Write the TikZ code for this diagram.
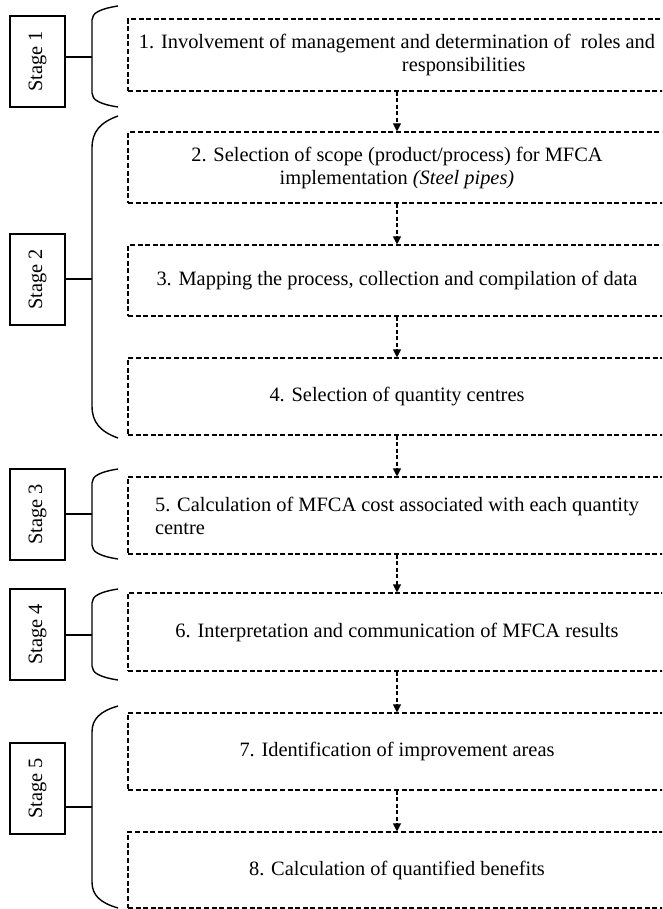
\documentclass[tikz,border=0pt]{standalone}
\usepackage{fontspec}
\setmainfont{Liberation Serif}
\usetikzlibrary{arrows.meta}
\tikzset{
  stepbox/.style={draw, dash pattern=on 5pt off 2.6pt, line width=1.1pt, minimum width=538pt, inner sep=0pt, font=\fontsize{20.4}{23}\selectfont},
  stagebox/.style={draw, line width=1.2pt, rotate=90, minimum width=91pt, minimum height=55pt, inner sep=0pt, font=\fontsize{20.4}{23}\selectfont},
  bracket/.style={line width=1.4pt},
  link/.style={line width=1.4pt},
  flow/.style={dash pattern=on 4pt off 2.5pt, line width=1.1pt, -{Triangle[length=8pt,width=8pt]}}
}
\newcommand\stagebrace[3]{%
  \draw[bracket] (118pt,-#1pt) .. controls (100pt,-#1pt-0.2*#3pt) and (92pt,-#1pt-0.5*#3pt) .. (92pt,-#1pt-#3pt)
    -- (92pt,-#2pt+#3pt) .. controls (92pt,-#2pt+0.5*#3pt) and (100pt,-#2pt+0.2*#3pt) .. (118pt,-#2pt);}
\begin{document}
\begin{tikzpicture}[x=1pt,y=-1pt]
\useasboundingbox (0,0) rectangle (662,909);
\begin{scope}
\clip (0,-1) rectangle (662,910);
% step boxes
\node[stepbox, minimum height=72pt, align=left] (b1) at (397,55) {1. Involvement of management and determination of\ \ roles and\\\hspace*{263pt}responsibilities};
\node[stepbox, minimum height=71pt, align=center] (b2) at (397,167.5) {2. Selection of scope (product/process) for MFCA\\implementation \textit{(Steel pipes)}};
\node[stepbox, minimum height=71pt] (b3) at (397,280.5) {3. Mapping the process, collection and compilation of data};
\node[stepbox, minimum height=77pt] (b4) at (397,396.5) {4. Selection of quantity centres};
\node[stepbox, minimum height=77pt, align=left] (b5) at (397,515.5) {5. Calculation of MFCA cost associated with each quantity\\centre};
\node[stepbox, minimum height=78pt] (b6) at (397,632) {6. Interpretation and communication of MFCA results};
\node[stepbox, minimum height=77pt] (b7) at (397,751.5) {7. Identification of improvement areas};
\node[stepbox, minimum height=76pt] (b8) at (397,870) {8. Calculation of quantified benefits};
\end{scope}
% arrows
\draw[flow] (b1.south) -- (b2.north);
\draw[flow] (b2.south) -- (b3.north);
\draw[flow] (b3.south) -- (b4.north);
\draw[flow] (b4.south) -- (b5.north);
\draw[flow] (b5.south) -- (b6.north);
\draw[flow] (b6.south) -- (b7.north);
\draw[flow] (b7.south) -- (b8.north);
% stage boxes
\node[stagebox] (s1) at (37.5,61.5) {Stage 1};
\node[stagebox] (s2) at (37.5,279.5) {Stage 2};
\node[stagebox] (s3) at (37.5,514.5) {Stage 3};
\node[stagebox] (s4) at (37.5,634.5) {Stage 4};
\node[stagebox] (s5) at (37.5,788.5) {Stage 5};
% brackets
\stagebrace{6}{107}{14}
\stagebrace{116}{438}{32}
\stagebrace{469}{559}{14}
\stagebrace{589}{680}{14}
\stagebrace{706}{908}{26}
\coordinate (k1) at (92,57);
\coordinate (k2) at (92,279);
\coordinate (k3) at (92,514);
\coordinate (k4) at (92,635);
\coordinate (k5) at (92,807);
\draw[link] (s1.south |- k1) -- (k1);
\draw[link] (s2.south |- k2) -- (k2);
\draw[link] (s3.south |- k3) -- (k3);
\draw[link] (s4.south |- k4) -- (k4);
\draw[link] (s5.south |- k5) -- (k5);
\end{tikzpicture}
\end{document}
